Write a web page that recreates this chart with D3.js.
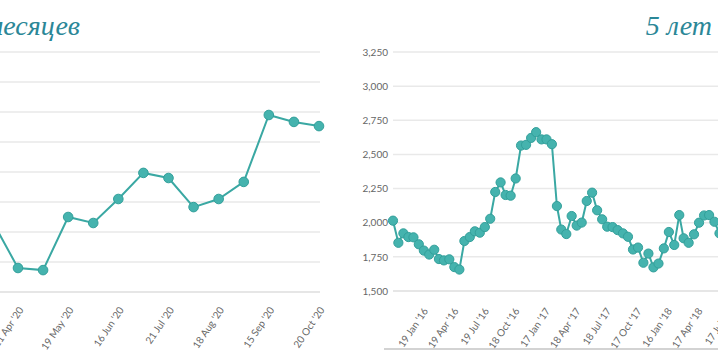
<!DOCTYPE html>
<html><head><meta charset="utf-8">
<script src="https://cdn.jsdelivr.net/npm/d3@7"></script>
<style>
html,body{margin:0;padding:0;background:#fff;overflow:hidden;}
svg{display:block;}
</style></head>
<body>
<svg id="c" width="718" height="359"></svg>
<script>
// ---- Left chart: 6 months (2020) ----
const leftTitle = "6 месяцев";
const leftCategories = ["07 Apr '20","21 Apr '20","05 May '20","19 May '20","02 Jun '20","16 Jun '20","07 Jul '20","21 Jul '20","04 Aug '20","18 Aug '20","01 Sep '20","15 Sep '20","29 Sep '20","20 Oct '20"];
const leftValues = [1633,1480,1473,1650,1630,1710,1797,1780,1683,1710,1767,1990,1967,1953];
const leftTickLabels = ["21 Apr '20","19 May '20","16 Jun '20","21 Jul '20","18 Aug '20","15 Sep '20","20 Oct '20"];
const leftYTicks = [1400,1500,1600,1700,1800,1900,2000,2100,2200];

// ---- Right chart: 5 years ----
const rightTitle = "5 лет";
const rightDates = ["2015-10-23","2015-11-08","2015-11-23","2015-12-08","2015-12-23",
 "2016-01-08","2016-01-23","2016-02-08","2016-02-23","2016-03-08","2016-03-23","2016-04-08","2016-04-23",
 "2016-05-08","2016-05-23","2016-06-08","2016-06-23","2016-07-08","2016-07-23","2016-08-08","2016-08-23",
 "2016-09-08","2016-09-23","2016-10-08","2016-10-23","2016-11-08","2016-11-23","2016-12-08","2016-12-23",
 "2017-01-08","2017-01-23","2017-02-08","2017-02-23","2017-03-08","2017-03-23","2017-04-08","2017-04-23",
 "2017-05-08","2017-05-23","2017-06-08","2017-06-23","2017-07-08","2017-07-23","2017-08-08","2017-08-23",
 "2017-09-08","2017-09-23","2017-10-08","2017-10-23","2017-11-08","2017-11-23","2017-12-08","2017-12-23",
 "2018-01-08","2018-01-23","2018-02-08","2018-02-23","2018-03-08","2018-03-23","2018-04-08","2018-04-23",
 "2018-05-08","2018-05-23","2018-06-08","2018-06-23"];
const rightValues = [2015,1853,1922,1895,1893,1842,1796,1767,1802,1734,1724,1732,1675,1657,1866,1895,1937,1927,1968,2029,
 2225,2295,2203,2198,2324,2565,2570,2621,2663,2610,2610,2575,2122,1950,1917,2049,1979,2001,2159,2220,
 2091,2025,1971,1968,1946,1922,1897,1804,1818,1707,1774,1673,1701,1812,1932,1837,2056,1886,1853,1915,
 2000,2053,2056,2007,1922];
const rightTickDates = ["2016-01-19","2016-04-19","2016-07-19","2016-10-18","2017-01-17","2017-04-18","2017-07-18","2017-10-17","2018-01-16","2018-04-17","2018-07-17"];
const rightYTicks = [1500,1750,2000,2250,2500,2750,3000,3250];
const rightDomain = ["2015-10-23","2020-10-20"];

const lineColor = "#3aa8a3", dotFill = "#45b3ae", dotStroke = "#33a09b";
const titleColor = "#2b8797", labelColor = "#666", gridColor = "#e9e9e9";
const svg = d3.select("#c");
const parse = d3.timeParse("%Y-%m-%d");
const fmtDate = d3.timeFormat("%d %b '%y");
const fmtNum = d3.format(",");

function title(text, x, anchor){
  svg.append("text").attr("x", x).attr("y", 35).attr("text-anchor", anchor)
    .attr("font-family", "'Liberation Serif', 'DejaVu Serif', serif").attr("font-style", "italic")
    .attr("font-size", 28).attr("fill", titleColor).text(text);
}
function gridAndY(g, y, ticks, x0, x1, showLabels){
  ticks.forEach((t, i) => {
    g.append("line").attr("x1", x0).attr("x2", x1).attr("y1", y(t)).attr("y2", y(t))
      .attr("stroke", i === 0 ? "#dedede" : gridColor).attr("stroke-width", 1.5);
  });
  if (!showLabels) return;
  const ax = g.append("g").attr("transform", `translate(${x0 - 5},0)`)
    .call(d3.axisLeft(y).tickValues(ticks).tickFormat(fmtNum).tickSize(0));
  ax.select(".domain").remove();
  ax.selectAll("text").attr("font-family", "Lato, 'Open Sans', sans-serif").attr("font-size", 10)
    .attr("fill", labelColor).attr("x", 0).attr("dy", "0.32em");
}
function xLabels(g, positions, labels, yTop){
  positions.forEach((px, i) => {
    g.append("text").attr("transform", `translate(${px + 3},${yTop}) rotate(-56)`)
      .attr("text-anchor", "end").attr("dy", "0.35em")
      .attr("font-family", "Lato, 'Open Sans', sans-serif").attr("font-size", 10)
      .attr("fill", labelColor).text(labels[i]);
  });
}
function series(g, pts, r){
  g.append("path").datum(pts).attr("fill", "none").attr("stroke", lineColor).attr("stroke-width", 2)
    .attr("d", d3.line().x(d => d[0]).y(d => d[1]));
  g.selectAll("circle.m").data(pts).join("circle").attr("class", "m")
    .attr("cx", d => d[0]).attr("cy", d => d[1]).attr("r", r)
    .attr("fill", dotFill).attr("stroke", dotStroke).attr("stroke-width", 1);
}

// Left chart (its y-axis labels lie outside the visible frame)
{
  const g = svg.append("g");
  const x = d3.scalePoint().domain(leftCategories).range([-7.1, 319]);
  const y = d3.scaleLinear().domain([1400, 2200]).range([292, 52]);
  gridAndY(g, y, leftYTicks, -40, 320, false);
  xLabels(g, leftTickLabels.map(l => x(l)), leftTickLabels, 308);
  series(g, leftCategories.map((c, i) => [x(c), y(leftValues[i])]), 4.8);
  title(leftTitle, 80, "end");
}
// Right chart
{
  const g = svg.append("g");
  const d0 = parse(rightDomain[0]), d1 = parse(rightDomain[1]);
  const days = (d1 - d0) / 864e5;
  const x = d3.scaleTime().domain([d0, d1]).range([393, 393 + days * 0.3352]);
  const y = d3.scaleLinear().domain([1500, 3250]).range([291, 52]);
  gridAndY(g, y, rightYTicks, 393, 1010, true);
  const td = rightTickDates.map(parse);
  xLabels(g, td.map(d => x(d)), td.map(fmtDate), 309);
  g.append("line").attr("x1", 384).attr("x2", 1010).attr("y1", 349).attr("y2", 349)
    .attr("stroke", "#c4c4c4").attr("stroke-width", 1.5);
  series(g, rightDates.map((d, i) => [x(parse(d)), y(rightValues[i])]), 4.6);
  title(rightTitle, 712, "end");
}
</script>
</body></html>
